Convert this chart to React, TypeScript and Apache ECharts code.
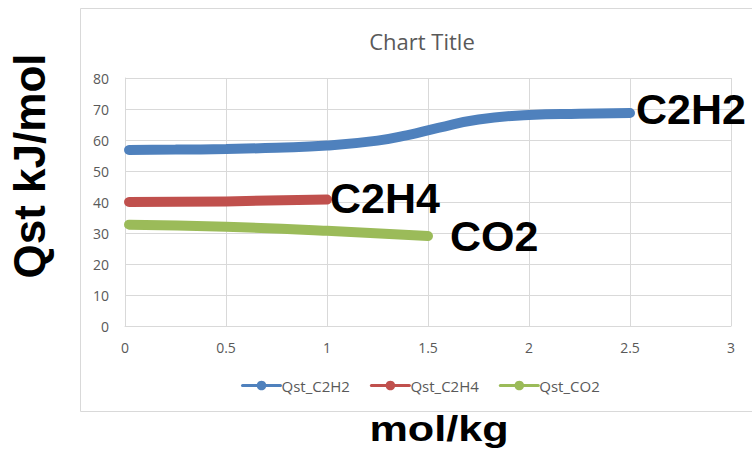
import React, { useEffect, useRef } from "react";
import * as echarts from "echarts";

// Isosteric heat of adsorption vs. loading
const loadingC2H2 = [0.02, 0.25, 0.5, 0.75, 1.0, 1.25, 1.4, 1.55, 1.75, 2.0, 2.25, 2.5];
const qstC2H2 = [56.8, 56.9, 57.1, 57.5, 58.2, 59.8, 61.6, 63.9, 66.6, 68.1, 68.5, 68.7];

const loadingC2H4 = [0.02, 0.5, 1.0];
const qstC2H4 = [40.0, 40.2, 40.8];

const loadingCO2 = [0.02, 0.5, 1.0, 1.5];
const qstCO2 = [32.7, 32.0, 30.7, 29.0];

const seriesNames = ["Qst_C2H2", "Qst_C2H4", "Qst_CO2"];
const endTags = ["C2H2", "C2H4", "CO2"];
const colors = ["#4f81bd", "#c0504d", "#9bbb59"];

const xTicks = { min: 0, max: 3, interval: 0.5 };
const yTicks = { min: 0, max: 80, interval: 10 };

const pair = (xs: number[], ys: number[]) => xs.map((x, i) => [x, ys[i]]);

const bigFont = '"Liberation Sans", Arial, sans-serif';
const smallFont = '"Open Sans", "Noto Sans", sans-serif';

export default function App() {
  const ref = useRef<HTMLDivElement>(null);

  useEffect(() => {
    if (!ref.current) return;
    const chart = echarts.init(ref.current, undefined, { renderer: "svg" });

    const datasets = [
      pair(loadingC2H2, qstC2H2),
      pair(loadingC2H4, qstC2H4),
      pair(loadingCO2, qstCO2),
    ];
    const labelDist = [6, 3, 22];
    const labelOffset = [
      [0, -4],
      [0, -2],
      [0, 0],
    ];

    chart.setOption({
      animation: false,
      backgroundColor: "#ffffff",
      title: {
        text: "Chart Title",
        left: 417,
        top: 25,
        textAlign: "center",
        textStyle: {
          color: "#595959",
          fontSize: 22,
          fontWeight: "normal",
          fontFamily: smallFont,
        },
      },
      grid: { left: 125, top: 78, right: 21, bottom: 124 },
      xAxis: {
        type: "value",
        min: xTicks.min,
        max: xTicks.max,
        interval: xTicks.interval,
        axisLine: { show: true, lineStyle: { color: "#d9d9d9" } },
        axisTick: { show: false },
        axisLabel: {
          color: "#595959",
          fontSize: 14,
          fontFamily: smallFont,
          margin: 14,
        },
        splitLine: { show: true, lineStyle: { color: "#d9d9d9", width: 1 } },
      },
      yAxis: {
        type: "value",
        min: yTicks.min,
        max: yTicks.max,
        interval: yTicks.interval,
        axisLine: { show: true, lineStyle: { color: "#d9d9d9" } },
        axisTick: { show: false },
        axisLabel: {
          color: "#595959",
          fontSize: 14,
          fontFamily: smallFont,
          margin: 16,
        },
        splitLine: { show: true, lineStyle: { color: "#d9d9d9", width: 1 } },
      },
      legend: {
        bottom: 52,
        left: 236,
        itemWidth: 38,
        itemHeight: 12,
        itemGap: 20,
        data: seriesNames,
        lineStyle: { width: 3 },
        textStyle: {
          color: "#595959",
          fontSize: 15,
          fontFamily: smallFont,
          padding: [0, 0, 0, -4],
        },
      },
      series: seriesNames.map((name, i) => ({
        name,
        type: "line",
        data: datasets[i],
        smooth: true,
        symbol: "circle",
        symbolSize: 10,
        showSymbol: false,
        color: colors[i],
        lineStyle: { width: 10, color: colors[i], cap: "round" },
        itemStyle: { color: colors[i] },
        endLabel: {
          show: true,
          formatter: endTags[i],
          color: "#000000",
          fontSize: 43,
          fontWeight: "bold",
          fontFamily: bigFont,
          distance: labelDist[i],
          offset: labelOffset[i],
        },
        z: 3 - i,
      })),
      graphic: [
        {
          type: "rect",
          shape: { x: 80.5, y: 8.5, width: 720, height: 403 },
          style: { fill: "none", stroke: "#d9d9d9", lineWidth: 1 },
          silent: true,
          z: -1,
        },
        {
          type: "text",
          x: 29,
          y: 166,
          rotation: Math.PI / 2,
          style: {
            text: "Qst kJ/mol",
            fill: "#000000",
            font: `bold 44px ${bigFont}`,
            textAlign: "center",
            textVerticalAlign: "middle",
          },
        },
        {
          type: "text",
          x: 439,
          y: 428,
          scaleX: 1.2,
          style: {
            text: "mol/kg",
            fill: "#000000",
            font: `bold 36px ${bigFont}`,
            textAlign: "center",
            textVerticalAlign: "middle",
          },
        },
      ],
    });

    return () => chart.dispose();
  }, []);

  return (
    <div
      ref={ref}
      style={{ position: "fixed", left: 0, top: 0, width: 752, height: 450 }}
    />
  );
}
